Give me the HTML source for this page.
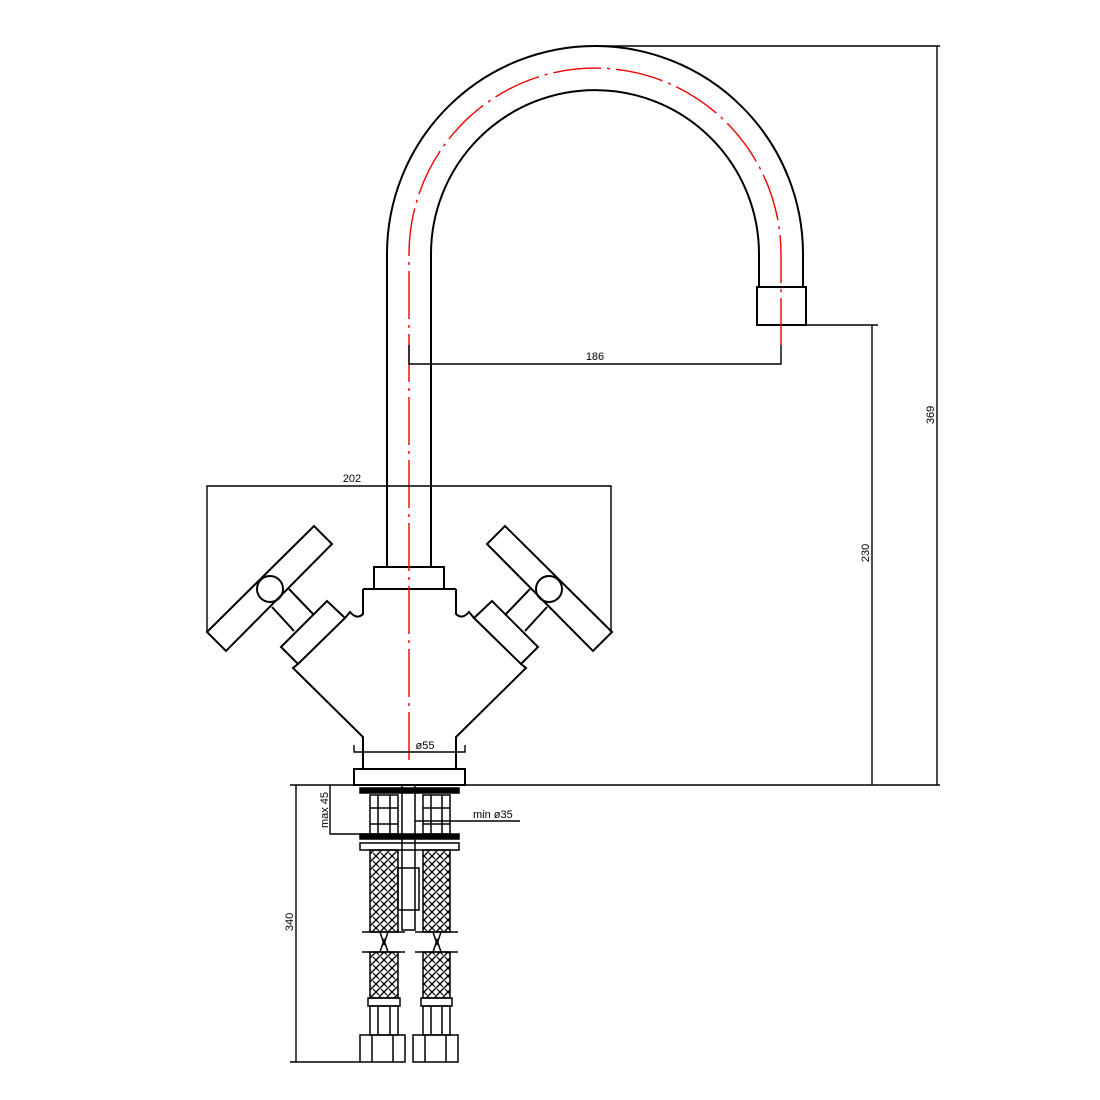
<!DOCTYPE html>
<html><head><meta charset="utf-8"><style>
html,body{margin:0;padding:0;background:#fff}
svg{display:block}
text{font-family:"Liberation Sans",sans-serif;font-size:11px;fill:#000}
</style></head><body>
<svg width="1100" height="1100" viewBox="0 0 1100 1100" xmlns="http://www.w3.org/2000/svg">
<defs>
<pattern id="braid" width="8" height="8" patternUnits="userSpaceOnUse">
<path d="M0 8 L8 0 M-2 2 L2 -2 M6 10 L10 6" stroke="#000" stroke-width="1.4"/>
<path d="M0 0 L3 3 M5 5 L8 8" stroke="#000" stroke-width="1.2"/>
</pattern>
</defs>
<g fill="none" stroke="#000" stroke-width="2">
<path d="M387 567 L387 254 A208 208 0 0 1 803 254 L803 287"/>
<path d="M431 567 L431 254 A164 164 0 0 1 759 254 L759 287"/>
<rect x="757" y="287" width="49" height="38"/>
<rect x="374" y="567" width="70" height="22"/>
<path d="M363 589 L363 614 Q357 620 350 612 L345 618"/>
<path d="M456 589 L456 614 Q462 620 469 612 L474 618"/>
<path d="M363 589 L456 589"/>
<path d="M298 664 L293 668 L363 737 L363 768"/>
<path d="M521 664 L526 668 L456 737 L456 768"/>
<polygon points="281,647 327,601 345,618 298,664"/>
<path d="M272 607 L294 631 M289 589 L313 614"/>
<polygon points="207,632 314,526 332,544 226,651"/>
<circle cx="270" cy="589" r="13"/>
<polygon points="538,647 492,601 474,618 521,664"/>
<path d="M547 607 L525 631 M530 589 L506 614"/>
<polygon points="612,632 505,526 487,544 593,651"/>
<circle cx="549" cy="589" r="13"/>
<rect x="354" y="769" width="111" height="16"/>
</g>
<g fill="none" stroke="#e00" stroke-width="1.4" stroke-dasharray="48 6 3 6">
<path d="M409 760 L409 254 A186 186 0 0 1 781 254 L781 345"/>
</g>
<g fill="none" stroke="#000" stroke-width="1.4">
<path d="M290 785 L940 785"/>
<path d="M597 46 L940 46 M937 46 L937 785"/>
<path d="M806 325 L878 325 M872 325 L872 785"/>
<path d="M409 345 L409 364 L781 364 L781 345"/>
<path d="M207 632 L207 486 L611 486 L611 632"/>
<path d="M354 745 L354 752 L465 752 L465 745"/>
<path d="M290 1062 L360 1062 M296 785 L296 1062"/>
<path d="M330 785 L330 834 L372 834"/>
<path d="M415 821 L520 821"/>
</g>
<text x="595" y="360" text-anchor="middle">186</text>
<text x="352" y="482" text-anchor="middle">202</text>
<text x="425" y="749" text-anchor="middle">ø55</text>
<text x="473" y="818">min  ø35</text>
<text transform="translate(934 415) rotate(-90)" text-anchor="middle">369</text>
<text transform="translate(869 553) rotate(-90)" text-anchor="middle">230</text>
<text transform="translate(293 922) rotate(-90)" text-anchor="middle">340</text>
<text transform="translate(328 810) rotate(-90)" text-anchor="middle">max  45</text>
<g fill="none" stroke="#000" stroke-width="1.5">
<rect x="360" y="788" width="99" height="5" fill="#000"/>
<rect x="360" y="834" width="99" height="5" fill="#000"/>
<rect x="360" y="843" width="99" height="7"/>
<rect x="402" y="785" width="13" height="145"/>
<rect x="398" y="868" width="21" height="42"/>
<rect x="370" y="795" width="28" height="39"/>
<path d="M378 795 L378 834 M390 795 L390 834 M370 808 L398 808 M370 824 L398 824"/>
<rect x="423" y="795" width="27" height="39"/>
<path d="M431 795 L431 834 M442 795 L442 834 M423 808 L450 808 M423 824 L450 824"/>
<rect x="370" y="850" width="28" height="82" fill="url(#braid)"/>
<rect x="423" y="850" width="27" height="82" fill="url(#braid)"/>
<path d="M362 932 L405 932 M415 932 L458 932 M362 952 L405 952 M415 952 L458 952"/>
<path d="M380 932 L384 944 L388 932 M433 932 L437 944 L441 932 M380 952 L384 940 L388 952 M433 952 L437 940 L441 952"/>
<rect x="370" y="952" width="28" height="46" fill="url(#braid)"/>
<rect x="423" y="952" width="27" height="46" fill="url(#braid)"/>
<rect x="368" y="998" width="32" height="8"/>
<rect x="421" y="998" width="31" height="8"/>
<rect x="370" y="1006" width="28" height="29"/>
<path d="M378 1006 L378 1035 M390 1006 L390 1035"/>
<rect x="423" y="1006" width="27" height="29"/>
<path d="M431 1006 L431 1035 M442 1006 L442 1035"/>
<rect x="360" y="1035" width="45" height="27"/>
<path d="M372 1035 L372 1062 M393 1035 L393 1062"/>
<rect x="413" y="1035" width="45" height="27"/>
<path d="M425 1035 L425 1062 M446 1035 L446 1062"/>
</g>
</svg>
</body></html>
